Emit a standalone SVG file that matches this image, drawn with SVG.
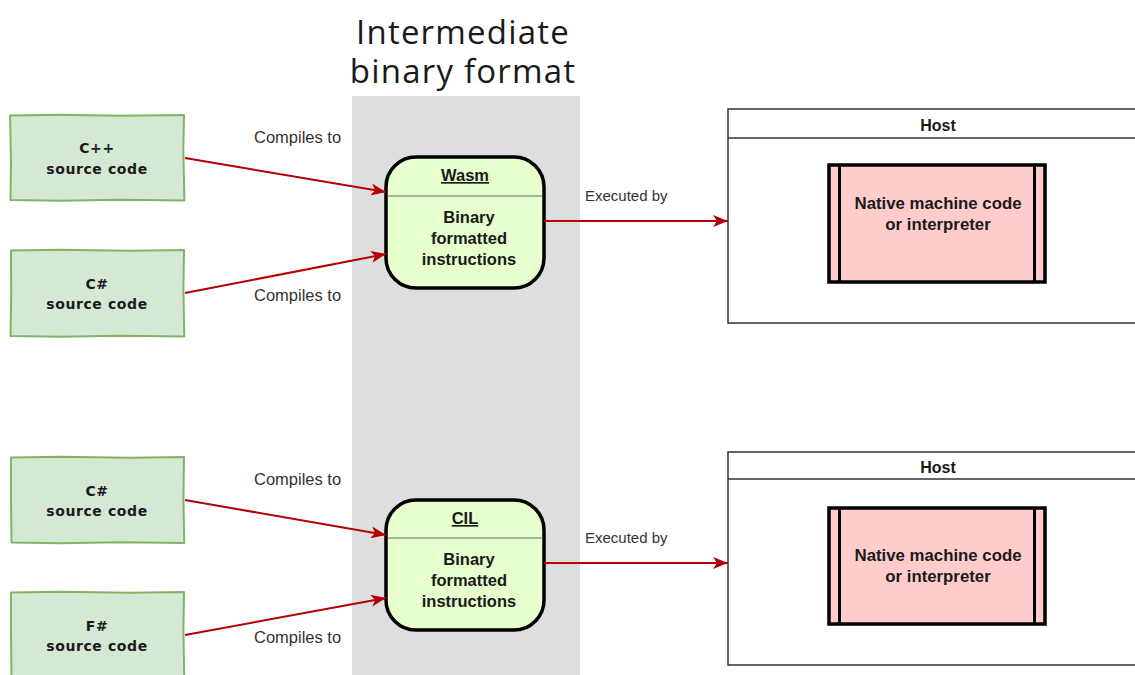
<svg xmlns="http://www.w3.org/2000/svg" width="1135" height="675" viewBox="0 0 1135 675">
<style>
.src{fill:#d5e8d4;stroke:#82b366;stroke-width:2;stroke-linejoin:round}
.srct{font-family:"DejaVu Sans","Liberation Sans",sans-serif;font-weight:bold;font-size:14px;fill:#1a1a1a;text-anchor:middle;letter-spacing:0.6px}
.lbl{font-family:"Liberation Sans",Arial,sans-serif;font-size:16.5px;fill:#333}
.lbl2{font-family:"Liberation Sans",Arial,sans-serif;font-size:15px;fill:#333}
.fmt{fill:#e6ffcc;stroke:#000;stroke-width:3.5}
.fmtt{font-family:"Liberation Sans",Arial,sans-serif;font-weight:bold;font-size:16.5px;fill:#1a1a1a;text-anchor:middle}
.natt{font-family:"Liberation Sans",Arial,sans-serif;font-weight:bold;font-size:16.8px;fill:#1a1a1a;text-anchor:middle}
.host{fill:#fff;stroke:#333;stroke-width:1.5}
.hostt{font-family:"Liberation Sans",Arial,sans-serif;font-weight:bold;font-size:16px;fill:#1a1a1a;text-anchor:middle}
.nat{fill:#ffcccc;stroke:#000;stroke-width:3.5}
.conn{stroke:#b20000;stroke-width:2;fill:none;marker-end:url(#ah)}
.title{font-family:"Open Sans","Noto Sans",sans-serif;font-size:33px;fill:#1a1a1a;text-anchor:middle;letter-spacing:1.2px}
</style>
<defs>
<marker id="ah" markerUnits="userSpaceOnUse" markerWidth="16" markerHeight="12" refX="15" refY="6" orient="auto">
<path d="M0,0 L15,6 L0,12 L4,6 Z" fill="#b20000"/>
</marker>
</defs>
<rect width="1135" height="675" fill="#fff"/>
<g id="band">
<rect x="352" y="96" width="228" height="580" fill="#dedede"/>
<text class="title" x="463" y="44">Intermediate</text>
<text class="title" x="463" y="83">binary format</text>
</g>
<g id="src-cpp">
<path class="src" d="M10,115.5 L60,114.8 L120,115.8 L184,115 L183.3,150 L184.4,200.5 L120,199.8 L60,200.8 L10.5,200 L11,160 Z"/>
<text class="srct" x="97" y="153">C++</text>
<text class="srct" x="97" y="174">source code</text>
</g>
<g id="src-cs1">
<path class="src" d="M11,250.5 L60,249.8 L130,250.8 L184,250 L183.4,290 L184.3,336.5 L120,335.8 L60,336.8 L10.5,336 L11.2,295 Z"/>
<text class="srct" x="97" y="289">C#</text>
<text class="srct" x="97" y="309">source code</text>
</g>
<g id="src-cs2">
<path class="src" d="M11,457.5 L60,456.8 L130,457.8 L184,457 L183.4,500 L184.3,543 L120,542.3 L60,543.3 L11.5,542.5 L11,500 Z"/>
<text class="srct" x="97" y="496">C#</text>
<text class="srct" x="97" y="516">source code</text>
</g>
<g id="src-fs">
<path class="src" d="M11,592.5 L60,591.8 L130,592.8 L184,592 L183.4,630 L184.3,680 L11.5,680 L11,630 Z"/>
<text class="srct" x="97" y="631">F#</text>
<text class="srct" x="97" y="651">source code</text>
</g>
<g id="wasm">
<rect class="fmt" x="386" y="157" width="158" height="131" rx="30" ry="30"/>
<line x1="387" y1="196" x2="543" y2="196" stroke="#666" stroke-width="1"/>
<text class="fmtt" x="465" y="181" text-decoration="underline">Wasm</text>
<text class="fmtt" x="469" y="223">Binary</text>
<text class="fmtt" x="469" y="244">formatted</text>
<text class="fmtt" x="469" y="265">instructions</text>
</g>
<g id="cil">
<rect class="fmt" x="386" y="500" width="158" height="130" rx="30" ry="30"/>
<line x1="387" y1="538" x2="543" y2="538" stroke="#666" stroke-width="1"/>
<text class="fmtt" x="465" y="524" text-decoration="underline">CIL</text>
<text class="fmtt" x="469" y="565">Binary</text>
<text class="fmtt" x="469" y="586">formatted</text>
<text class="fmtt" x="469" y="607">instructions</text>
</g>
<g id="host1">
<rect class="host" x="728" y="109" width="420" height="214"/>
<line x1="728" y1="138" x2="1140" y2="138" stroke="#333" stroke-width="1.5"/>
<text class="hostt" x="938" y="131">Host</text>
<rect class="nat" x="829" y="165" width="216" height="117"/>
<line x1="839.5" y1="165" x2="839.5" y2="282" stroke="#000" stroke-width="3"/>
<line x1="1034.5" y1="165" x2="1034.5" y2="282" stroke="#000" stroke-width="3"/>
<text class="natt" x="938" y="209">Native machine code</text>
<text class="natt" x="938" y="230">or interpreter</text>
</g>
<g id="host2">
<rect class="host" x="728" y="452" width="420" height="213"/>
<line x1="728" y1="479" x2="1140" y2="479" stroke="#333" stroke-width="1.5"/>
<text class="hostt" x="938" y="473">Host</text>
<rect class="nat" x="829" y="508" width="216" height="116"/>
<line x1="839.5" y1="508" x2="839.5" y2="624" stroke="#000" stroke-width="3"/>
<line x1="1034.5" y1="508" x2="1034.5" y2="624" stroke="#000" stroke-width="3"/>
<text class="natt" x="938" y="561">Native machine code</text>
<text class="natt" x="938" y="582">or interpreter</text>
</g>
<g id="connectors">
<line class="conn" x1="185" y1="158" x2="386" y2="192"/>
<line class="conn" x1="185" y1="293" x2="386" y2="254"/>
<line class="conn" x1="544" y1="221" x2="728" y2="221"/>
<line class="conn" x1="185" y1="500" x2="386" y2="535"/>
<line class="conn" x1="185" y1="635" x2="386" y2="598"/>
<line class="conn" x1="544" y1="563" x2="728" y2="563"/>
<text class="lbl" x="254" y="143">Compiles to</text>
<text class="lbl" x="254" y="301">Compiles to</text>
<text class="lbl2" x="585" y="201">Executed by</text>
<text class="lbl" x="254" y="485">Compiles to</text>
<text class="lbl" x="254" y="643">Compiles to</text>
<text class="lbl2" x="585" y="543">Executed by</text>
</g>
</svg>
